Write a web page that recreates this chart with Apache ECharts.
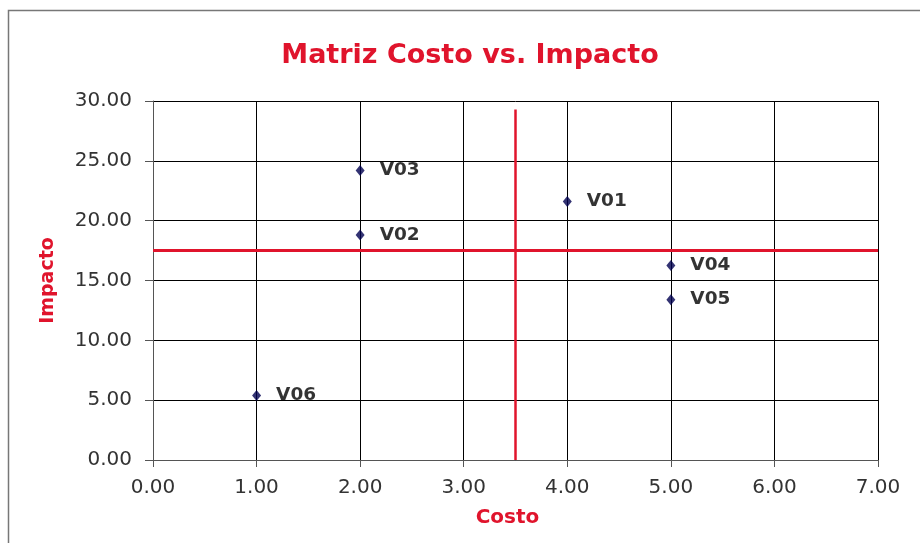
<!DOCTYPE html>
<html>
<head>
<meta charset="utf-8">
<script src="https://cdn.jsdelivr.net/npm/echarts@6/dist/echarts.min.js"></script>
<style>
  html, body { margin: 0; padding: 0; background: #fff; }
  #chart { width: 920px; height: 543px; }
</style>
</head>
<body>
<div id="chart"></div>
<script>
// Cost vs. impact of each item
const names  = ['V01', 'V02', 'V03', 'V04', 'V05', 'V06'];
const costo   = [4, 2, 2, 5, 5, 1];
const impacto = [21.6, 18.8, 24.2, 16.25, 13.4, 5.4];

// Quadrant dividers
const corteCosto = 3.5;
const corteImpacto = 17.5;
const topeCorteCosto = 29.3;

const xMin = 0, xMax = 7, xStep = 1;
const yMin = 0, yMax = 30, yStep = 5;

const puntos = names.map((n, i) => ({ name: n, value: [costo[i], impacto[i]] }));
const red = '#e0142c';
const textFont = '"DejaVu Sans", Verdana, sans-serif';

const chart = echarts.init(document.getElementById('chart'));
chart.setOption({
  animation: false,
  backgroundColor: '#fff',
  title: {
    text: 'Matriz Costo vs. Impacto',
    left: 465, top: 37, textAlign: 'center',
    textStyle: { color: red, fontSize: 27, fontWeight: 'bold', fontFamily: textFont }
  },
  graphic: [{
    type: 'rect', shape: { x: 8.5, y: 10.5, width: 950, height: 600 },
    style: { fill: 'none', stroke: '#777', lineWidth: 1.5 }, silent: true
  }],
  grid: { left: 153, right: 42, top: 101, bottom: 83 },
  xAxis: {
    type: 'value', min: xMin, max: xMax, interval: xStep,
    name: 'Costo', nameLocation: 'middle', nameGap: 48,
    nameTextStyle: { color: red, fontSize: 20, fontWeight: 'bold', fontFamily: textFont, padding: [0, 16, 0, 0] },
    axisLine: { show: true, lineStyle: { color: '#555', width: 1 } },
    axisTick: { show: true, length: 7, inside: false, lineStyle: { color: '#555' } },
    axisLabel: { formatter: v => v.toFixed(2), color: '#333', fontSize: 20, fontFamily: textFont, margin: 18 },
    splitLine: { show: true, lineStyle: { color: '#000', width: 1 } }
  },
  yAxis: {
    type: 'value', min: yMin, max: yMax, interval: yStep,
    name: 'Impacto', nameLocation: 'middle', nameGap: 95, nameRotate: 90,
    nameTextStyle: { color: red, fontSize: 19, fontWeight: 'bold', fontFamily: textFont },
    axisLine: { show: true, lineStyle: { color: '#555', width: 1 } },
    axisTick: { show: true, length: 8, inside: false, lineStyle: { color: '#555' } },
    axisLabel: { formatter: v => v.toFixed(2), color: '#333', fontSize: 20, fontFamily: textFont, margin: 21 },
    splitLine: { show: true, lineStyle: { color: '#000', width: 1 } }
  },
  series: [
    {
      type: 'line', data: [[xMin, corteImpacto], [xMax, corteImpacto]],
      symbol: 'none', lineStyle: { color: red, width: 3 }, silent: true, z: 3
    },
    {
      type: 'line', data: [[corteCosto, yMin], [corteCosto, topeCorteCosto]],
      symbol: 'none', lineStyle: { color: red, width: 2.5 }, silent: true, z: 3
    },
    {
      type: 'scatter', data: puntos, symbol: 'diamond', symbolSize: [9, 11],
      itemStyle: { color: '#000050' }, z: 5,
      label: {
        show: true, position: 'right', distance: 15, formatter: p => p.name,
        color: '#000', fontSize: 18.5, fontWeight: 'bold', fontFamily: textFont
      }
    }
  ]
});
</script>
</body>
</html>
